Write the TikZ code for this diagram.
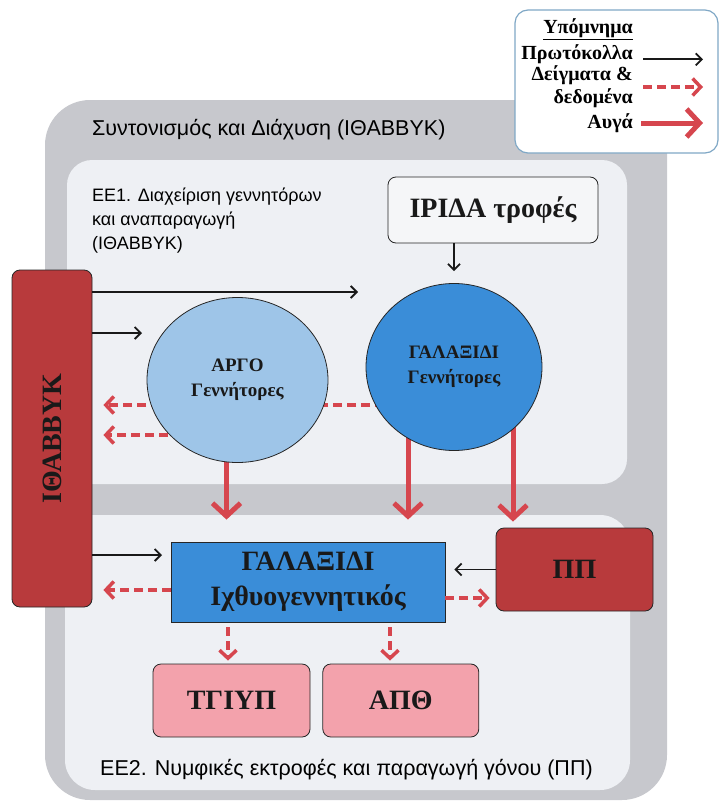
\documentclass[tikz,border=0pt]{standalone}
\usepackage{fontspec}
\usepackage{graphicx}
\setmainfont{Liberation Serif}
\setsansfont{Liberation Sans}
\usetikzlibrary{arrows.meta,shapes.geometric,positioning}
\definecolor{outergray}{RGB}{199,200,205}
\definecolor{panelfill}{RGB}{238,240,244}
\definecolor{ibbred}{RGB}{184,58,60}
\definecolor{paleblue}{RGB}{158,197,232}
\definecolor{deepblue}{RGB}{58,141,216}
\definecolor{rosefill}{RGB}{243,162,172}
\definecolor{eggred}{RGB}{214,70,78}
\definecolor{legendedge}{RGB}{128,168,198}
\pgfdeclarelayer{bg}
\pgfdeclarelayer{under}
\pgfsetlayers{bg,under,main}
\begin{document}
\begin{tikzpicture}[x=1pt,y=-1pt,
    title/.style={font=\sffamily\fontsize{21.5}{24}\selectfont,align=left,anchor=west,inner sep=0pt},
    legendtext/.style={font=\bfseries\fontsize{20}{23}\selectfont,align=right,anchor=east,inner sep=0pt},
    unit/.style={draw=black!85,line width=0.8pt,text=black!90,font=\bfseries\fontsize{28}{35}\selectfont,align=center,inner sep=0pt},
    brood/.style={unit,ellipse,font=\bfseries\fontsize{19}{25}\selectfont},
    proto/.style={draw=black!90,line width=1.8pt,-{Straight Barb[length=6pt,width=12pt]}},
    data/.style={draw=eggred,line width=3.5pt,dash pattern=on 9pt off 5pt,-{Straight Barb[length=8pt,width=17pt]}},
    eggs/.style={draw=eggred,line width=5pt,-{Straight Barb[length=13pt,width=28pt]}}
  ]
  \useasboundingbox (0,0) rectangle (718,803);
  \begin{pgfonlayer}{bg}
    \fill[outergray,rounded corners=45pt] (45,100) rectangle (667,800);
    \fill[panelfill,rounded corners=25pt] (67,160) rectangle (627,484);
    \fill[panelfill,rounded corners=30pt] (65,515) rectangle (630,790);
  \end{pgfonlayer}

  \node[title] (coordTitle) at (92,130) {Συντονισμός και Διάχυση (ΙΘΑΒΒΥΚ)};
  \node[title,font=\sffamily\fontsize{18}{24}\selectfont] (ee1Title) at (92,221) {ΕΕ1. Διαχείριση γεννητόρων\\και αναπαραγωγή\\(ΙΘΑΒΒΥΚ)};
  \node[title] (ee2Title) at (100,770) {ΕΕ2. Νυμφικές εκτροφές και παραγωγή γόνου (ΠΠ)};

  \node[unit,rounded corners=8pt,fill=panelfill!60!white,minimum width=210pt,minimum height=66pt] (iris) at (493,210) {ΙΡΙΔΑ τροφές};
  \node[brood,fill=paleblue,minimum width=181pt,minimum height=165pt] (argo) at (237.5,380) {ΑΡΓΟ\\Γεννήτορες};
  \node[brood,fill=deepblue,minimum width=176pt,minimum height=167pt] (galg) at (454,367) {ΓΑΛΑΞΙΔΙ\\Γεννήτορες};
  \node[unit,rounded corners=8pt,fill=ibbred,minimum width=80pt,minimum height=337pt] (ibb) at (52,438.5) {\rotatebox{90}{ΙΘΑΒΒΥΚ}};
  \node[unit,fill=deepblue,minimum width=274pt,minimum height=80pt] (fish) at (308,582) {ΓΑΛΑΞΙΔΙ\\Ιχθυογεννητικός};
  \node[unit,rounded corners=8pt,fill=ibbred,minimum width=157pt,minimum height=83pt] (pp) at (574.5,569.5) {ΠΠ};
  \node[unit,rounded corners=8pt,fill=rosefill,minimum width=157pt,minimum height=73pt] (tgiyp) at (231.5,700.5) {ΤΓΙΥΠ};
  \node[unit,rounded corners=8pt,fill=rosefill,minimum width=156pt,minimum height=73pt,right=12pt of tgiyp] (apth) {ΑΠΘ};

  \node[draw=legendedge,line width=1.2pt,fill=white,rounded corners=13pt,minimum width=203pt,minimum height=143pt] (legend) at (616.5,81.5) {};
  \node[legendtext] (lgTitle) at (633,29) {\underline{Υπόμνημα}};
  \node[legendtext] (lgProto) at (633,54) {Πρωτόκολλα};
  \node[legendtext] (lgData) at (633,87) {Δείγματα \&\\δεδομένα};
  \node[legendtext] (lgEggs) at (633,123) {Αυγά};
  \coordinate (lgTip) at (703,0);
  \draw[proto] ([xshift=10pt]lgProto.base east) -- (lgTip |- lgProto.base east);
  \draw[data] ([xshift=10pt]lgData.east) -- (lgTip |- lgData.east);
  \draw[eggs] ([xshift=8pt]lgEggs.east) -- (lgTip |- lgEggs.east);

  \coordinate (toGal) at (358,292);
  \coordinate (toArgo) at (142,333);
  \coordinate (fishIn) at (162,555);
  \draw[proto] (ibb.east |- toGal) -- (toGal);
  \draw[proto] (ibb.east |- toArgo) -- (toArgo);
  \draw[proto] (ibb.east |- fishIn) -- (fishIn);
  \draw[proto,shorten >=12pt] (galg.north |- iris.south) -- (galg.north);
  \draw[proto,shorten >=9pt] (pp.west) -- (fish.east |- pp.west);

  \begin{pgfonlayer}{under}
    \draw[data,shorten >=11pt] ([yshift=-38pt]galg.center) -- ([yshift=-38pt]galg.center -| ibb.east);
    \draw[data,shorten >=11pt] ([yshift=-55pt]argo.center) -- ([yshift=-55pt]argo.center -| ibb.east);
    \draw[eggs,shorten >=22pt] ([xshift=-11pt]argo.center) -- ([xshift=-11pt]argo.center |- fish.north);
    \draw[eggs,shorten >=22pt] ([xshift=-46pt]galg.center) -- ([xshift=-46pt]galg.center |- fish.north);
    \draw[eggs,shorten >=6pt] ([xshift=59pt]galg.center) -- ([xshift=59pt]galg.center |- pp.north);
  \end{pgfonlayer}
  \draw[data,shorten >=11pt] ([yshift=-8pt]fish.west) -- ([yshift=-8pt]fish.west -| ibb.east);
  \draw[data,shorten >=6pt] ([yshift=-16pt]fish.east) -- ([yshift=-16pt]fish.east -| pp.west);
  \draw[data,shorten <=5pt,shorten >=3pt] ([xshift=-80pt]fish.south) -- ([xshift=-80pt]fish.south |- tgiyp.north);
  \draw[data,shorten <=5pt,shorten >=3pt] ([xshift=82pt]fish.south) -- ([xshift=82pt]fish.south |- apth.north);
\end{tikzpicture}
\end{document}
